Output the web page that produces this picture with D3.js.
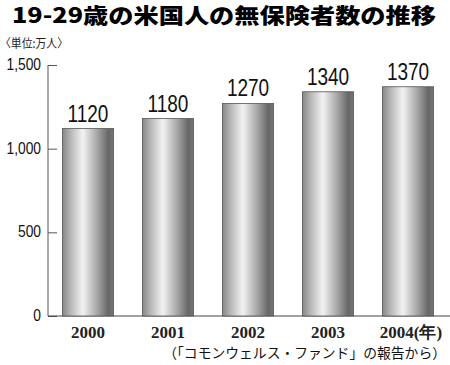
<!DOCTYPE html>
<html>
<head>
<meta charset="utf-8">
<script src="https://cdn.jsdelivr.net/npm/d3@7"></script>
<style>
body { margin: 0; background: #fff; }
</style>
</head>
<body>
<div id="chart"></div>
<script>
// data
var years = ["2000", "2001", "2002", "2003", "2004"];
var values = [1120, 1180, 1270, 1340, 1370];
var yTicks = [0, 500, 1000, 1500];

var W = 450, H = 365;
var svg = d3.select("#chart").append("svg")
    .attr("width", W)
    .attr("height", H);

// bar gradient (cylinder look)
var grad = svg.append("defs").append("linearGradient")
    .attr("id", "cyl")
    .attr("x1", "0%").attr("x2", "100%").attr("y1", "0%").attr("y2", "0%");
[[0, "#858585"], [0.15, "#b4b4b4"], [0.4, "#f3f3f3"], [0.7, "#a0a0a0"], [0.9, "#666"], [1, "#777"]]
  .forEach(function(s) {
    grad.append("stop").attr("offset", s[0]).attr("stop-color", s[1]);
  });

// scales
var x = d3.scaleBand().domain(years).range([48, 448]).paddingInner(0.36).paddingOuter(0.18);
var y = d3.scaleLinear().domain([0, 1500]).range([316, 65]);

// title
svg.append("text")
    .attr("x", 12).attr("y", 23)
    .attr("textLength", 424).attr("lengthAdjust", "spacingAndGlyphs")
    .style("font-family", "'Noto Sans CJK JP'")
    .style("font-weight", "900")
    .style("font-size", "21px")
    .text("19-29歳の米国人の無保険者数の推移");

svg.append("text")
    .attr("x", 0).attr("y", 48)
    .attr("textLength", 68).attr("lengthAdjust", "spacingAndGlyphs")
    .style("font-family", "'Noto Sans CJK JP'")
    .style("font-size", "12px")
    .style("fill", "#222")
    .text("〈単位:万人〉");

// y axis
var yAxis = svg.append("g")
    .attr("transform", "translate(48,0)")
    .call(d3.axisRight(y).tickValues(yTicks).tickSize(9).tickFormat(""));
yAxis.select(".domain").remove();
yAxis.selectAll("line").attr("stroke", "#555");

svg.append("line")
    .attr("x1", 48).attr("x2", 48)
    .attr("y1", y(1500)).attr("y2", y(0))
    .attr("stroke", "#555");
svg.append("line")
    .attr("x1", 48).attr("x2", 450)
    .attr("y1", y(0)).attr("y2", y(0))
    .attr("stroke", "#444");

svg.selectAll(".ylab")
    .data(yTicks)
  .enter().append("text")
    .attr("class", "ylab")
    .attr("text-anchor", "end")
    .attr("transform", function(d) { return "translate(41," + (y(d) + 5) + ") scale(0.92,1.15)"; })
    .style("font-family", "'Liberation Sans'")
    .style("font-size", "15px")
    .style("fill", "#111")
    .text(d3.format(","));

// bars
svg.selectAll(".bar")
    .data(values)
  .enter().append("rect")
    .attr("class", "bar")
    .attr("x", function(d, i) { return x(years[i]); })
    .attr("y", function(d) { return y(d); })
    .attr("width", x.bandwidth())
    .attr("height", function(d) { return y(0) - y(d); })
    .attr("fill", "url(#cyl)")
    .attr("stroke", "#555")
    .attr("stroke-width", 0.8);

// value labels
svg.selectAll(".val")
    .data(values)
  .enter().append("text")
    .attr("class", "val")
    .attr("text-anchor", "middle")
    .attr("transform", function(d, i) {
      return "translate(" + (x(years[i]) + x.bandwidth() / 2) + "," + (y(d) - 7) + ") scale(0.95,1.2)";
    })
    .style("font-family", "'Liberation Sans'")
    .style("font-size", "20px")
    .style("fill", "#111")
    .text(function(d) { return d; });

// x labels
svg.selectAll(".xlab")
    .data(years)
  .enter().append("text")
    .attr("class", "xlab")
    .attr("text-anchor", "middle")
    .attr("x", function(d) { return x(d) + x.bandwidth() / 2 + (d == "2004" ? 3 : 0); })
    .attr("y", 338)
    .style("font-family", "'Liberation Serif'")
    .style("font-weight", "bold")
    .style("font-size", "17px")
    .style("fill", "#222")
    .text(function(d) { return d == "2004" ? d + "(年)" : d; });

// source
svg.append("text")
    .attr("x", 446).attr("y", 358)
    .attr("text-anchor", "end")
    .style("font-family", "'Noto Sans CJK JP'")
    .style("font-size", "13.8px")
    .style("fill", "#111")
    .text("（「コモンウェルス・ファンド」の報告から）");
</script>
</body>
</html>
